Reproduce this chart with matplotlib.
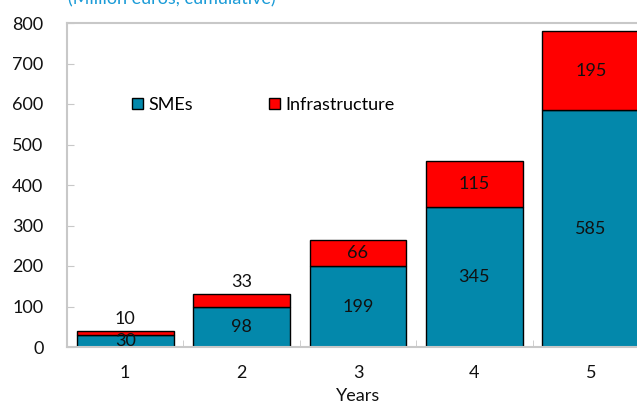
import matplotlib.pyplot as plt
from matplotlib.patches import Patch

years = [1, 2, 3, 4, 5]
smes = [30, 98, 199, 345, 585]
infra = [10, 33, 66, 115, 195]

sme_color = '#0388AB'
infra_color = '#FF0000'
grey = '#C8C8C8'

plt.rcParams['font.family'] = ['Lato', 'DejaVu Sans']
plt.rcParams['font.size'] = 13

fig = plt.figure(figsize=(6.37, 4.07), dpi=100)
# axes runs past the right edge, like the cropped original
ax = fig.add_axes([67 / 637, 60 / 407, 582 / 637, 324 / 407])

ax.bar(years, smes, width=0.83, color=sme_color, edgecolor='black', linewidth=1)
ax.bar(years, infra, width=0.83, bottom=smes, color=infra_color, edgecolor='black', linewidth=1)

for x, s, i in zip(years, smes, infra):
    ax.text(x, s / 2, str(s), ha='center', va='center', fontsize=13, color='#111111')
    if i < 50:
        # too thin: write above the bar
        ax.text(x, s + i + 10, str(i), ha='center', va='bottom', fontsize=13, color='#111111')
    else:
        ax.text(x, s + i / 2, str(i), ha='center', va='center', fontsize=13, color='#111111')

ax.set_xlim(0.5, 5.5)
ax.set_ylim(0, 800)
ax.set_yticks(range(0, 801, 100))
ax.set_xticks(years)
ax.set_xticks([1.5, 2.5, 3.5, 4.5], minor=True)
ax.tick_params(axis='x', which='major', length=0, pad=13)
ax.tick_params(axis='x', which='minor', direction='in', length=5, color=grey)
ax.tick_params(axis='y', direction='in', length=5, color=grey, pad=17)
ax.tick_params(labelsize=13, labelcolor='#111111')

for side in ['left', 'bottom', 'top']:
    ax.spines[side].set_color(grey)
    ax.spines[side].set_linewidth(1.5)
ax.spines['right'].set_visible(False)

ax.set_xlabel('Years', fontsize=13, color='#111111', labelpad=5)

handles = [Patch(facecolor=sme_color, edgecolor='black', label='SMEs'),
           Patch(facecolor=infra_color, edgecolor='black', label='Infrastructure')]
fig.legend(handles=handles, loc='center left', bbox_to_anchor=(125 / 637, 1 - 105 / 407),
           ncol=2, frameon=False, fontsize=13, handlelength=0.6, handleheight=0.6,
           handletextpad=0.3, columnspacing=4.2, borderaxespad=0)

fig.text(68 / 637, 1 + 1 / 407, '(Million euros, cumulative)', ha='left', va='center',
         fontsize=13, color='#1A9BD7')

fig.savefig('out.png', dpi=100)
